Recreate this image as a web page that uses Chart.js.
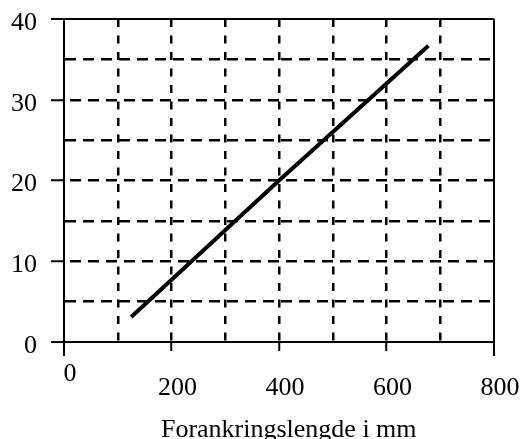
<!DOCTYPE html>
<html>
<head>
<meta charset="utf-8">
<script src="https://cdn.jsdelivr.net/npm/chart.js@4"></script>
<style>
  html, body { margin: 0; padding: 0; background: #fff; }
  #wrap { width: 524px; height: 439px; }
</style>
</head>
<body>
<div id="wrap"><canvas id="myChart"></canvas></div>
<script>
// values
const lengthMm = [125, 400, 678];
const force = [3.1, 20, 36.7];
const xLabels = [0, 200, 400, 600, 800];
const yLabels = [0, 10, 20, 30, 40];
const xTitle = '\u00a0\u00a0\u00a0Forankringslengde i mm';

const serif = { family: "'Liberation Serif', 'Times New Roman', serif", size: 26 };

const points = lengthMm.map((x, i) => ({ x: x, y: force[i] }));

function fixBox(w, h) {
  return function(scale) {
    if (w !== null) scale.width = w;
    if (h !== null) scale.height = h;
    scale.paddingLeft = 0;
    scale.paddingRight = 0;
    scale.paddingTop = 0;
    scale.paddingBottom = 0;
  };
}

const ctx = document.getElementById('myChart');
new Chart(ctx, {
  type: 'scatter',
  data: {
    datasets: [{
      data: points,
      showLine: true,
      borderColor: '#000',
      borderWidth: 4,
      pointRadius: 0,
      fill: false
    }]
  },
  options: {
    responsive: true,
    maintainAspectRatio: false,
    animation: false,
    layout: { padding: { left: 0, right: 30, top: 19, bottom: 0 } },
    plugins: {
      legend: { display: false },
      tooltip: { enabled: false }
    },
    scales: {
      x: {
        type: 'linear',
        min: 0,
        max: 800,
        afterFit: fixBox(null, 97),
        ticks: {
          stepSize: 100,
          autoSkip: false,
          maxRotation: 0,
          color: '#000',
          padding: 11,
          labelOffset: 6,
          font: Object.assign({}, serif, { lineHeight: '14px' }),
          callback: function(value) {
            if (!xLabels.includes(value)) return '';
            // 0 sits one line higher than the others
            return value === 0 ? '0' : ['', String(value)];
          }
        },
        grid: {
          color: '#000',
          lineWidth: c => (c.tick && (c.tick.value === 0 || c.tick.value === 800)) ? 2 : 2.5,
          tickLength: 14,
          tickWidth: 2,
          tickColor: c => (c.tick && c.tick.value % 200 === 0) ? '#000' : 'rgba(0,0,0,0)',
          tickBorderDash: c => {
            const v = c.tick ? c.tick.value : 0;
            return (v === 0 || v === 800) ? [] : [8, 100];
          }
        },
        border: {
          color: '#000',
          width: 2,
          dash: c => {
            const v = c.tick ? c.tick.value : 0;
            return (v === 0 || v === 800) ? [] : [8, 8.5];
          }
        },
        title: {
          display: true,
          text: xTitle,
          color: '#000',
          font: Object.assign({}, serif, { lineHeight: '18px' }),
          padding: { top: 0, bottom: 0 }
        }
      },
      y: {
        min: 0,
        max: 40,
        afterFit: fixBox(64, null),
        ticks: {
          stepSize: 5,
          autoSkip: false,
          color: '#000',
          padding: 14,
          labelOffset: 4,
          font: Object.assign({}, serif, { lineHeight: '14px' }),
          callback: function(value) {
            return yLabels.includes(value) ? String(value) : '';
          }
        },
        grid: {
          color: '#000',
          lineWidth: c => (c.tick && (c.tick.value === 0 || c.tick.value === 40)) ? 2 : 2.5,
          tickLength: 13,
          tickWidth: 2,
          tickColor: c => (c.tick && c.tick.value % 10 === 0) ? '#000' : 'rgba(0,0,0,0)'
        },
        border: {
          color: '#000',
          width: 2,
          dash: c => {
            const v = c.tick ? c.tick.value : 0;
            return (v === 0 || v === 40) ? [] : [11, 7];
          },
          dashOffset: c => (c.tick && c.tick.value % 10 === 0) ? 13 : 0
        }
      }
    }
  }
});
</script>
</body>
</html>
